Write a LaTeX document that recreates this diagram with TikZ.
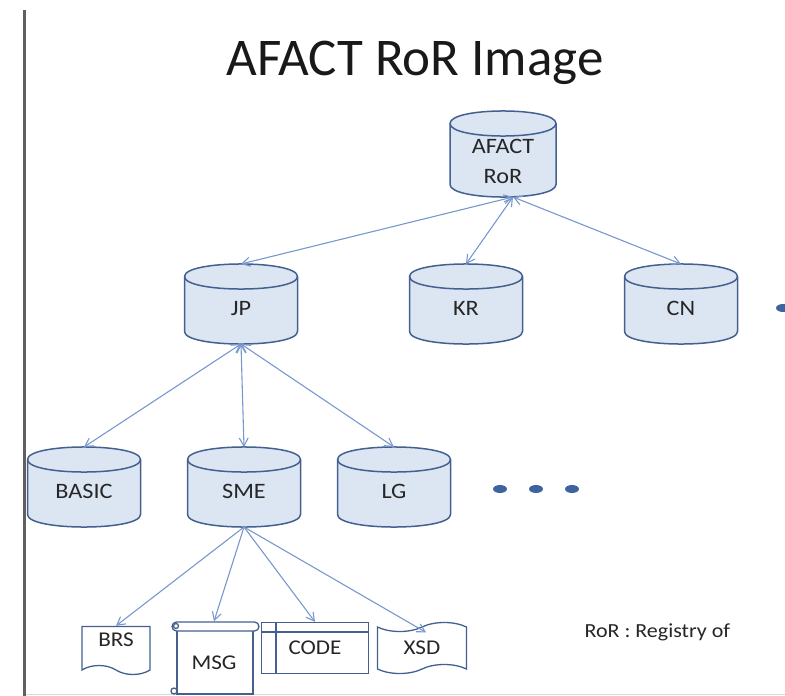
\documentclass[tikz,border=0pt]{standalone}
\usepackage{fontspec}
\setmainfont{Carlito}
\newfontfamily\lblfont[FakeStretch=1.1]{Carlito}
\usetikzlibrary{shapes.geometric, shapes.symbols, arrows.meta, positioning, calc, backgrounds}
\definecolor{dbborder}{RGB}{68,96,144}
\definecolor{dbfill}{RGB}{220,230,242}
\definecolor{linkblue}{RGB}{120,152,205}
\definecolor{dotblue}{RGB}{62,100,160}
\definecolor{inkgray}{RGB}{38,38,38}
\tikzset{
    dbnode/.style={rectangle, minimum width=113pt, minimum height=80pt, inner sep=0pt, outer sep=0pt,
        text=inkgray, font=\lblfont\fontsize{22}{30}\selectfont, align=center},
    dblabel/.style={text height=22pt, text depth=0pt},
    dbshape/.style={draw=dbborder, fill=dbfill, line width=1.5pt},
    docnode/.style={draw=dbborder, fill=white, line width=1.3pt, inner sep=0pt,
        text=inkgray, font=\lblfont\fontsize{21}{23}\selectfont},
    docline/.style={draw=dbborder, line width=1.3pt},
    link/.style={{Straight Barb[length=8pt,width=9pt]}-{Straight Barb[length=8pt,width=9pt]}, linkblue, line width=1.1pt},
    downlink/.style={-{Straight Barb[length=8pt,width=9pt]}, linkblue, line width=1.1pt},
    moredot/.style={ellipse, fill=dotblue, minimum width=14pt, minimum height=8pt, inner sep=0pt},
}

\begin{document}
\begin{tikzpicture}[x=1pt, y=-1pt]
    \useasboundingbox (0,0) rectangle (785,696);
    \clip (0,0) rectangle (785,696);

    % frame
    \draw[gray!30, line width=1pt] (24,694) -- (785,694);
    \draw[gray!75!black, line width=3pt] (24,10) -- (24,696);

    \node[text=black!90, font=\fontsize{53}{60}\selectfont] (title) at (415,63) {AFACT RoR Image};

    % registries
    \node[dbnode, minimum width=106pt, minimum height=86pt] (ror) at (503,154) {\\AFACT\\RoR};
    \node[dbnode, dblabel] (jp) at (241,304) {JP};
    \node[dbnode, dblabel] (kr) at (466,304) {KR};
    \node[dbnode, dblabel] (cn) at (681,304) {CN};
    \node[moredot] (cnmore) at (783,308) {};

    \node[dbnode, dblabel] (basic) at (84,487) {BASIC};
    \node[dbnode, dblabel] (sme) at (244,487) {SME};
    \node[dbnode, dblabel] (lg) at (394,487) {LG};
    \node[moredot] (dot1) at (500,489) {};
    \node[moredot] (dot2) at (536,489) {};
    \node[moredot] (dot3) at (572,489) {};

    % cylinders behind the labels
    \begin{scope}[on background layer]
    \foreach \n in {ror,jp,kr,cn,basic,sme,lg}{
        \draw[dbshape] ($(\n.north west)+(0,12.5)$) -- ($(\n.south west)+(0,-12.5)$)
            .. controls ($(\n.south west)+(0,4.2)$) and ($(\n.south east)+(0,4.2)$) .. ($(\n.south east)+(0,-12.5)$)
            -- ($(\n.north east)+(0,12.5)$)
            .. controls ($(\n.north east)+(0,-4.2)$) and ($(\n.north west)+(0,-4.2)$) .. cycle;
        \draw[dbshape, fill=none] ($(\n.north west)+(0,12.5)$)
            .. controls ($(\n.north west)+(0,29.2)$) and ($(\n.north east)+(0,29.2)$) .. ($(\n.north east)+(0,12.5)$);
    }
    \end{scope}

    % artefacts
    \node[docnode, tape, tape bend top=none, tape bend bottom=out and in, tape bend height=9pt,
        minimum width=68pt, minimum height=48pt] (brs) at (116,646) {};
    \node[text=inkgray, font=\lblfont\fontsize{21}{23}\selectfont] (brstext) at (116,640) {BRS};
    \node[inner sep=0pt, minimum width=86pt, minimum height=73pt] (msg) at (214,658) {};
    \draw[docline, fill=white] (177,629) -- (177,694) -- (253,694) -- (253,629);
    \draw[docline, fill=white] (174,691) circle[radius=3];
    \draw[docline, fill=white, rounded corners=4.5pt] (172,622) rectangle (259,631);
    \draw[docline] (176,626) circle[radius=2.5];
    \node[text=inkgray, font=\lblfont\fontsize{21}{23}\selectfont] (msgtext) at (214,663) {MSG};
    \node[docnode, rectangle, minimum width=107pt, minimum height=51pt] (code) at (315,648) {CODE};
    \draw[docline] (code.north west) ++(15,0) -- ++(0,51);
    \draw[docline] (code.north west) ++(0,10) -- ++(107,0);
    \node[docnode, tape, tape bend height=9pt, minimum width=89pt, minimum height=51pt] (xsd) at (422,648) {XSD};

    \node[anchor=west, text=inkgray, font=\lblfont\fontsize{20}{22}\selectfont] (legend) at (581,632) {RoR : Registry of};

    % links
    \coordinate (rorfoot) at ($(ror.south)+(10,0)$);
    \draw[link] (rorfoot) -- (jp.north);
    \draw[link] (rorfoot) -- (kr.north);
    \draw[link] (rorfoot) -- (cn.north);
    \draw[link] (jp.south) -- (basic.north);
    \draw[link] (jp.south) -- (sme.north);
    \draw[link] (jp.south) -- (lg.north);
    \draw[downlink] (sme.south) -- (brs.north);
    \draw[downlink] (sme.south) -- (msg.north);
    \draw[downlink] (sme.south) -- (code.north);
    \draw[downlink] (sme.south) -- ($(xsd.north)+(4,6)$);
\end{tikzpicture}
\end{document}
